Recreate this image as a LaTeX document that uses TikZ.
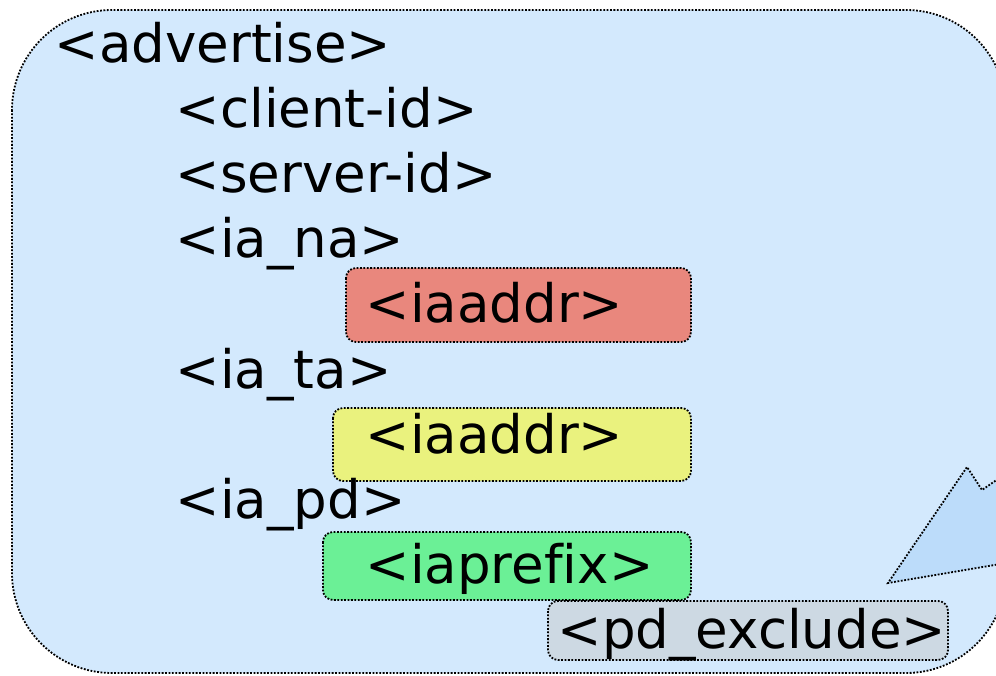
\documentclass[tikz,border=0pt]{standalone}
\usepackage{fontspec}
\setmainfont{DejaVu Sans}[Ligatures=NoCommon]
\usepackage{xcolor}

\definecolor{msgblue}{HTML}{D3E9FD}
\definecolor{calloutblue}{HTML}{BCDCFA}
\definecolor{nared}{HTML}{E9877D}
\definecolor{tayellow}{HTML}{EAF27E}
\definecolor{pdgreen}{HTML}{6BF096}
\definecolor{excgray}{HTML}{CDD9E3}

\begin{document}
\begin{tikzpicture}[x=1pt,y=-1pt,font=\fontsize{53}{60}\selectfont,
  dots/.style={draw=black,line width=1.8pt,dash pattern=on 1.8pt off 1.6pt},
  slot/.style={dots,rounded corners=10pt},
  tag/.style={anchor=base west,inner sep=0pt}]
\useasboundingbox (0,0) rectangle (996,676);
\clip (0,0) rectangle (996,676);
% message body and the pointer coming in from the right
\draw[dots,fill=msgblue,rounded corners=100pt] (12,10) rectangle (1006,673);
\draw[dots,fill=calloutblue] (1030,559) -- (888,583) -- (967,467) -- (982,490) -- (1030,457);
% option slots
\draw[slot,fill=nared] (346,268) rectangle (691,342);
\draw[slot,fill=tayellow] (333,408) rectangle (691,481);
\draw[slot,fill=pdgreen] (323,532) rectangle (691,600);
\draw[slot,fill=excgray] (548,601) rectangle (948,660);
% option names
\node[tag] (adv) at (54.5,63) {<advertise>};
\node[tag] (cid) at (175.5,128) {<client-id>};
\node[tag] (sid) at (175.5,193) {<server-id>};
\node[tag] (iana) at (175.5,258) {<ia\_na>};
\node[tag] (naaddr) at (365.5,323) {<iaaddr>};
\node[tag] (iata) at (175.5,388) {<ia\_ta>};
\node[tag] (taaddr) at (365.5,453) {<iaaddr>};
\node[tag] (iapd) at (175.5,518) {<ia\_pd>};
\node[tag] (prefix) at (365.5,583) {<iaprefix>};
\node[tag] (excl) at (557.5,648) {<pd\_exclude>};
\end{tikzpicture}
\end{document}
